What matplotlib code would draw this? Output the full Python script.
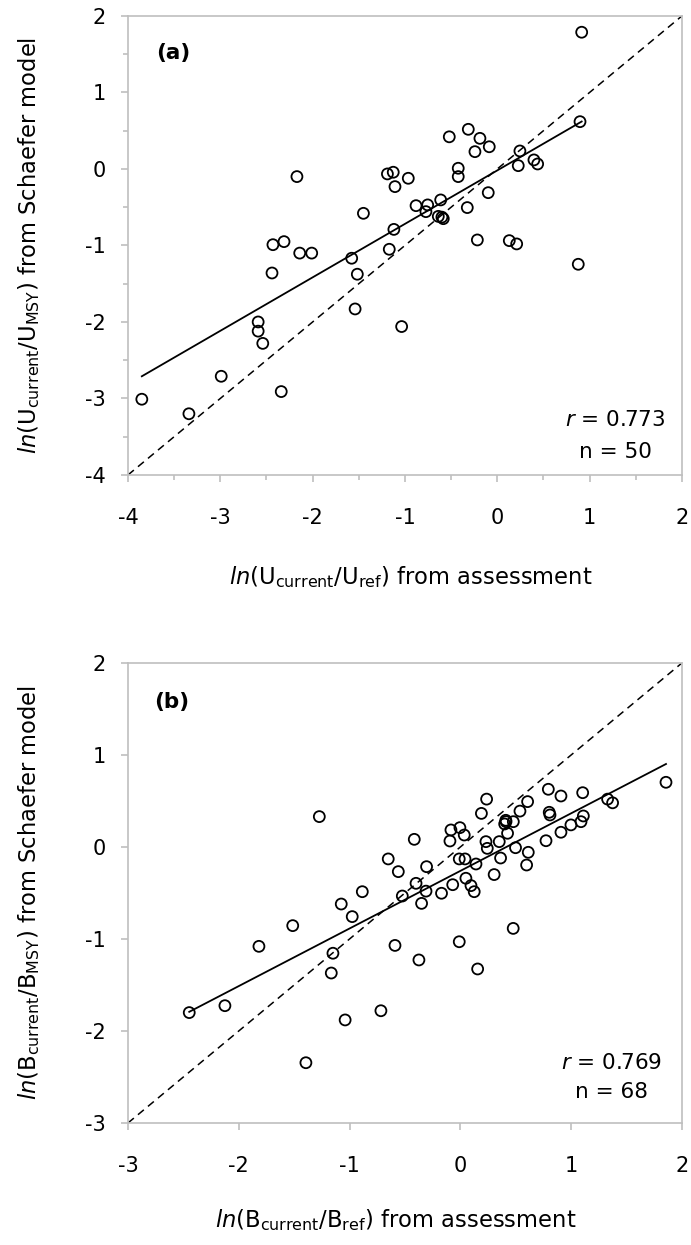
import numpy as np
import matplotlib
matplotlib.use('Agg')
import matplotlib.pyplot as plt

plt.rcParams['font.family'] = ['DejaVu Sans']
plt.rcParams['mathtext.fontset'] = 'dejavusans'

# panel (a): ln(U_current/U_ref) vs ln(U_current/U_MSY)
u_assess = [-2.17, -2.43, -2.31, -2.14, -2.01, -2.44,
            -2.59, -2.59, -2.54, -2.99, -3.85, -3.34, -2.34,
            0.914, 0.896, -0.52, -0.314, -0.188, -0.087, -0.242, 0.245, 0.227,
            0.397, 0.437, -1.19, -1.127, -0.964, -1.108, -0.423, -0.423, -0.098,
            -1.45, -0.88, -0.754, -0.613, -0.773, -0.325, -0.639, -0.585, -0.60,
            -1.12, -1.17, -1.577, -1.516, -0.216, 0.13, 0.21, 0.877,
            -1.54, -1.036]
u_schaefer = [-0.10, -0.99, -0.95, -1.10, -1.10, -1.36,
              -2.00, -2.12, -2.28, -2.71, -3.01, -3.20, -2.91,
              1.787, 0.618, 0.42, 0.518, 0.40, 0.29, 0.226, 0.235, 0.043,
              0.118, 0.065, -0.065, -0.043, -0.122, -0.231, 0.009, -0.10, -0.31,
              -0.58, -0.48, -0.47, -0.405, -0.558, -0.505, -0.62, -0.65, -0.63,
              -0.79, -1.05, -1.167, -1.376, -0.928, -0.937, -0.98, -1.246,
              -1.83, -2.06]
fit_a = (0.699, -0.019)   # slope, intercept
stats_a = ('0.773', '50')

# panel (b): ln(B_current/B_ref) vs ln(B_current/B_MSY)
b_assess = [1.856, 1.329, 1.374, 1.104, 0.794, 0.908, 0.802, 0.809, 1.11, 1.089,
            0.998, 0.908, 0.773, 0.607, 0.538, 0.478, 0.412, 0.426, 0.40, 0.237,
            0.19, 0.351, 0.231, 0.243, 0.498, 0.613, 0.598, 0.363, 0.305, -0.085,
            -0.004, 0.035, -0.094, -0.416, -0.01, 0.042, 0.141, -0.305, -0.651, -0.56,
            -0.885, -0.40, -0.524, -0.31, -0.35, -0.17, -0.069, 0.05, 0.096, 0.125,
            -0.976, -1.075, -1.273, -1.513, -1.818, -1.15, -1.165, -2.447, -2.125, -1.394,
            -1.04, -0.59, -0.374, -0.01, 0.156, -0.717, 0.477, 0.41]
b_schaefer = [0.703, 0.52, 0.48, 0.59, 0.627, 0.554, 0.377, 0.348, 0.337, 0.275,
              0.24, 0.16, 0.068, 0.493, 0.39, 0.275, 0.275, 0.149, 0.25, 0.52,
              0.365, 0.058, 0.058, -0.015, -0.008, -0.058, -0.196, -0.12, -0.30, 0.185,
              0.21, 0.13, 0.065, 0.083, -0.13, -0.13, -0.185, -0.214, -0.13, -0.268,
              -0.486, -0.395, -0.533, -0.48, -0.613, -0.503, -0.41, -0.34, -0.42, -0.486,
              -0.757, -0.62, 0.33, -0.855, -1.08, -1.155, -1.37, -1.80, -1.725, -2.345,
              -1.88, -1.07, -1.228, -1.03, -1.326, -1.78, -0.885, 0.29]
fit_b = (0.626, -0.26)
stats_b = ('0.769', '68')

gray = '#BFBFBF'
tick_fs = 15
label_fs = 16.3

fig = plt.figure(figsize=(6.91, 12.45), dpi=100)
ax1 = fig.add_axes([0.1852, 0.6185, 0.8017, 0.3687])
ax2 = fig.add_axes([0.1852, 0.0980, 0.8017, 0.3695])


def draw(ax, x, y, fit, stats, lim, tag, xlab, ylab, minor, xl_pos, txt_pos):
    x = np.array(x)
    y = np.array(y)
    ax.plot(lim, lim, color='black', lw=1.1, dashes=[5, 3.5], zorder=2)
    xs = np.array([x.min(), x.max()])
    ax.plot(xs, fit[0] * xs + fit[1], color='black', lw=1.3, zorder=3)
    ax.scatter(x, y, s=62, facecolors='none', edgecolors='black', linewidths=1.3, zorder=4)
    ax.set_xlim(lim)
    ax.set_ylim(lim)
    ticks = np.arange(lim[0], lim[1] + 1)
    ax.set_xticks(ticks)
    ax.set_yticks(ticks)
    ax.set_xticklabels([str(int(t)) for t in ticks])
    ax.set_yticklabels([str(int(t)) for t in ticks])
    if minor:
        ax.set_xticks(np.arange(lim[0] + 0.5, lim[1], 1.0), minor=True)
        ax.set_yticks(np.arange(lim[0] + 0.5, lim[1], 1.0), minor=True)
    for s in ax.spines.values():
        s.set_color(gray)
        s.set_linewidth(1.2)
    ax.tick_params(axis='both', which='major', direction='out', length=5, width=1.2,
                   color=gray, labelsize=tick_fs)
    ax.tick_params(axis='x', which='major', pad=19)
    ax.tick_params(axis='y', which='major', pad=11)
    ax.tick_params(axis='both', which='minor', direction='out', length=3.5, width=1.2, color=gray)
    ax.set_xlabel(xlab, fontsize=label_fs, va='center')
    ax.xaxis.set_label_coords(xl_pos[0], xl_pos[1])
    ax.set_ylabel(ylab, fontsize=label_fs, va='center')
    ax.yaxis.set_label_coords(-0.179, 0.5)
    ax.text(tag[1], tag[2], tag[0], fontsize=15.5, fontweight='bold', ha='left', va='center')
    ax.text(txt_pos[0], txt_pos[1], r'$\mathit{r}$ = ' + stats[0], fontsize=15.5, ha='center', va='center')
    ax.text(txt_pos[0], txt_pos[2], 'n = ' + stats[1], fontsize=15.5, ha='center', va='center')


draw(ax1, u_assess, u_schaefer, fit_a, stats_a, (-4, 2), ('(a)', -3.69, 1.52),
     r'$\mathit{ln}$(U$_{\mathrm{current}}$/U$_{\mathrm{ref}}$) from assessment',
     r'$\mathit{ln}$(U$_{\mathrm{current}}$/U$_{\mathrm{MSY}}$) from Schaefer model',
     True, (0.51, -0.222), (1.275, -3.28, -3.70))
draw(ax2, b_assess, b_schaefer, fit_b, stats_b, (-3, 2), ('(b)', -2.76, 1.58),
     r'$\mathit{ln}$(B$_{\mathrm{current}}$/B$_{\mathrm{ref}}$) from assessment',
     r'$\mathit{ln}$(B$_{\mathrm{current}}$/B$_{\mathrm{MSY}}$) from Schaefer model',
     False, (0.484, -0.211), (1.368, -2.348, -2.663))

fig.savefig('out.png', dpi=100)
